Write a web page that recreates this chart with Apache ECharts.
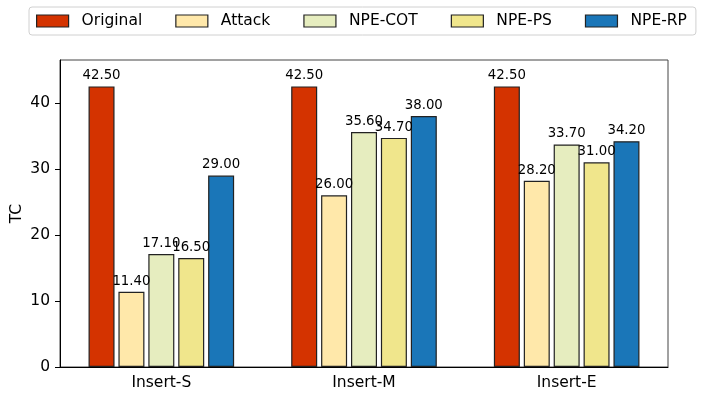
<!DOCTYPE html>
<html>
<head>
<meta charset="utf-8">
<script src="https://cdn.jsdelivr.net/npm/echarts@6/dist/echarts.min.js"></script>
<style>
  html, body { margin: 0; padding: 0; background: #fff; }
  #chart { width: 706px; height: 393px; }
</style>
</head>
<body>
<div id="chart"></div>
<script>
// Task completion (TC) per insertion position, by method
const categories = ['Insert-S', 'Insert-M', 'Insert-E'];
const seriesNames = ['Original', 'Attack', 'NPE-COT', 'NPE-PS', 'NPE-RP'];
const original = [42.5, 42.5, 42.5];
const attack = [11.4, 26.0, 28.2];
const npeCot = [17.1, 35.6, 33.7];
const npePs = [16.5, 34.7, 31.0];
const npeRp = [29.0, 38.0, 34.2];
const yTicks = [0, 10, 20, 30, 40];

const values = [original, attack, npeCot, npePs, npeRp];
const colors = ['#d43300', '#ffe8aa', '#e6edbf', '#f0e68c', '#1a76b8'];
const font = 'DejaVu Sans';

const chart = echarts.init(document.getElementById('chart'), null, { renderer: 'canvas' });

chart.setOption({
  animation: false,
  textStyle: { fontFamily: font },
  legend: {
    data: seriesNames,
    left: 29,
    top: 7,
    padding: [5, 9, 5, 7],
    itemWidth: 32,
    itemHeight: 12,
    itemGap: 33,
    icon: 'rect',
    borderColor: '#d0d0d0',
    borderWidth: 1,
    borderRadius: 3,
    itemStyle: { borderColor: '#222', borderWidth: 1.2 },
    textStyle: { fontFamily: font, fontSize: 15.5, color: '#000', padding: [0, 0, 0, 8], lineHeight: 18 }
  },
  grid: {
    left: 60, right: 38, top: 60, bottom: 26,
    show: true, borderColor: '#444', borderWidth: 1,
    containLabel: false,
    outerBoundsMode: 'none'
  },
  xAxis: {
    type: 'category',
    data: categories,
    axisLine: { lineStyle: { color: '#000', width: 1 } },
    axisTick: { alignWithLabel: true, length: 5, lineStyle: { color: '#000' } },
    axisLabel: { fontFamily: font, fontSize: 15.5, color: '#000', margin: 8 },
    splitLine: { show: false }
  },
  yAxis: {
    type: 'value',
    min: 0,
    max: 46.5,
    name: 'TC',
    nameLocation: 'middle',
    nameGap: 35,
    nameRotate: 90,
    nameMoveOverlap: false,
    nameTextStyle: { fontFamily: font, fontSize: 15.5, color: '#000' },
    axisLine: { show: true, lineStyle: { color: '#000', width: 1 } },
    axisTick: { show: true, length: 5, customValues: yTicks, lineStyle: { color: '#000' } },
    axisLabel: { fontFamily: font, fontSize: 15.5, color: '#000', margin: 10, customValues: yTicks },
    splitLine: { show: false }
  },
  series: seriesNames.map((name, i) => ({
    name,
    type: 'bar',
    data: values[i],
    barWidth: 26,
    barGap: '15%',
    itemStyle: { color: colors[i], borderColor: '#222', borderWidth: 1.2 },
    label: {
      show: true,
      position: 'top',
      distance: 4,
      fontFamily: font,
      fontSize: 13.3,
      color: '#000',
      formatter: p => p.value.toFixed(2)
    }
  }))
});
</script>
</body>
</html>
